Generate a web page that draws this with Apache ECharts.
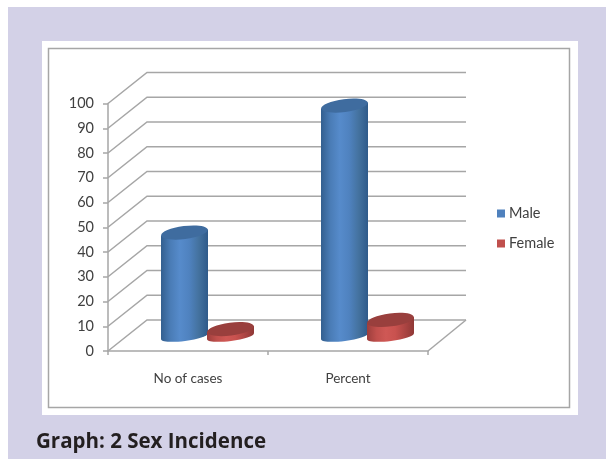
<!DOCTYPE html>
<html>
<head>
<meta charset="utf-8">
<style>
  html, body { margin: 0; padding: 0; background: #fff; }
  #main { width: 606px; height: 459px; }
</style>
<script src="https://cdn.jsdelivr.net/npm/echarts@6/dist/echarts.min.js"></script>
</head>
<body>
<div id="main"></div>
<script>
const categories = ['No of cases', 'Percent'];
const maleValues = [42, 93.3];
const femaleValues = [3, 6.7];
const gridTicks = [0, 10, 20, 30, 40, 50, 60, 70, 80, 90, 100];

// depth of the fake 3d box, in pixels
const depthX = 39;
const depthY = 31;
const radiusX = 23.5;
const radiusY = 6.5;
const baseRadiusY = 4.5;
const tilt = 3;

const bodyFill = (l, r, stops) => ({
  type: 'linear', x: l, y: 0, x2: r, y2: 0, global: true,
  colorStops: stops.map((c, i) => ({ offset: i / (stops.length - 1), color: c }))
});

const blue = { top: '#3f6c9f', stops: ['#335f8f', '#4a7cb6', '#568bcb', '#4f82bf', '#44729f', '#2f5a8a'] };
const red = { top: '#993f3d', stops: ['#9c3e3c', '#c04f4c', '#cf5855', '#c9524f', '#ad4543', '#8f3836'] };

// one cylinder standing on the middle of the floor
const cylinder = (params, api, offset, look) => {
  const top = api.coord([api.value(0), api.value(1)]);
  const base = api.coord([api.value(0), 0]);
  const cx = top[0] + depthX / 2 + offset;
  const yTop = top[1] - depthY / 2 + 1;
  const yBase = base[1] - depthY / 2 + 1;
  const l = cx - radiusX;
  const r = cx + radiusX;
  const fill = bodyFill(l, r, look.stops);
  const angle = Math.atan2(tilt * 2, radiusX * 2);
  return {
    type: 'group',
    children: [
      { type: 'ellipse', shape: { cx, cy: yBase, rx: radiusX, ry: baseRadiusY },
        rotation: angle, originX: cx, originY: yBase, style: { fill } },
      { type: 'polygon', shape: { points: [[l, yTop + tilt], [r, yTop - tilt], [r, yBase - tilt], [l, yBase + tilt]] },
        style: { fill } },
      { type: 'ellipse', shape: { cx, cy: yTop, rx: radiusX, ry: radiusY },
        rotation: angle, originX: cx, originY: yTop, style: { fill: look.top } }
    ]
  };
};

const chart = echarts.init(document.getElementById('main'));
chart.setOption({
  animation: false,
  backgroundColor: '#fff',
  textStyle: { fontFamily: 'Lato' },
  graphic: [
    { type: 'rect', z: -10, shape: { x: 8, y: 7, width: 598, height: 452 }, style: { fill: '#d3d1e7' } },
    { type: 'rect', z: -9, shape: { x: 42, y: 41, width: 536, height: 374 }, style: { fill: '#fff' } },
    { type: 'rect', z: -8, shape: { x: 48.5, y: 48.5, width: 521, height: 359 }, style: { fill: 'none', stroke: '#a6a6a6', lineWidth: 1.5 } },
    { type: 'text', x: 36, y: 432, style: { text: 'Graph: 2 Sex Incidence', font: 'bold 20.5px "Open Sans"', fill: '#231f20' } }
  ],
  grid: { left: 108, top: 103.5, width: 320, height: 247.5 },
  legend: {
    orient: 'vertical',
    left: 492,
    top: 201,
    itemWidth: 8,
    itemHeight: 8,
    itemGap: 15,
    icon: 'rect',
    data: ['Male', 'Female'],
    textStyle: { fontSize: 14.5, color: '#404040', fontFamily: 'Lato', padding: [0, 0, 0, -1] }
  },
  xAxis: {
    type: 'category',
    data: categories,
    axisLine: { lineStyle: { color: '#a6a6a6', width: 1.5 } },
    axisTick: { show: true, length: 4, lineStyle: { color: '#a6a6a6', width: 1.5 } },
    axisLabel: { fontSize: 13.5, color: '#404040', margin: 21 }
  },
  yAxis: {
    type: 'value',
    min: 0,
    max: 100,
    interval: 10,
    splitLine: { show: false },
    axisLine: { show: true, lineStyle: { color: '#a6a6a6', width: 1.5 } },
    axisTick: { show: true, length: 5, lineStyle: { color: '#a6a6a6', width: 1.5 } },
    axisLabel: { fontSize: 14.5, color: '#404040', margin: 14, padding: [4, 0, 0, 0] }
  },
  series: [
    {
      // side and back wall lines
      type: 'custom',
      silent: true,
      z: 1,
      data: gridTicks.map(t => [0, t]),
      renderItem: (params, api) => {
        const front = api.coord([0, api.value(1)]);
        const x0 = front[0] - api.size([1, 0])[0] / 2;
        const width = api.size([1, 0])[0] * categories.length;
        const children = [{
          type: 'polyline',
          shape: { points: [[x0, front[1]], [x0 + depthX, front[1] - depthY], [x0 + depthX + width - 1, front[1] - depthY]] },
          style: { fill: 'none', stroke: '#a6a6a6', lineWidth: 1.5 }
        }];
        if (api.value(1) === 0) {
          children.push({
            type: 'line',
            shape: { x1: x0 + width, y1: front[1], x2: x0 + width + depthX - 1, y2: front[1] - depthY },
            style: { stroke: '#a6a6a6', lineWidth: 1.5 }
          });
        }
        return { type: 'group', children };
      }
    },
    {
      name: 'Male',
      type: 'custom',
      z: 2,
      itemStyle: { color: '#4f81bd' },
      data: maleValues.map((v, i) => [i, v]),
      renderItem: (params, api) => cylinder(params, api, -23, blue)
    },
    {
      name: 'Female',
      type: 'custom',
      z: 3,
      itemStyle: { color: '#c0504d' },
      data: femaleValues.map((v, i) => [i, v]),
      renderItem: (params, api) => cylinder(params, api, 23, red)
    }
  ]
});
</script>
</body>
</html>
